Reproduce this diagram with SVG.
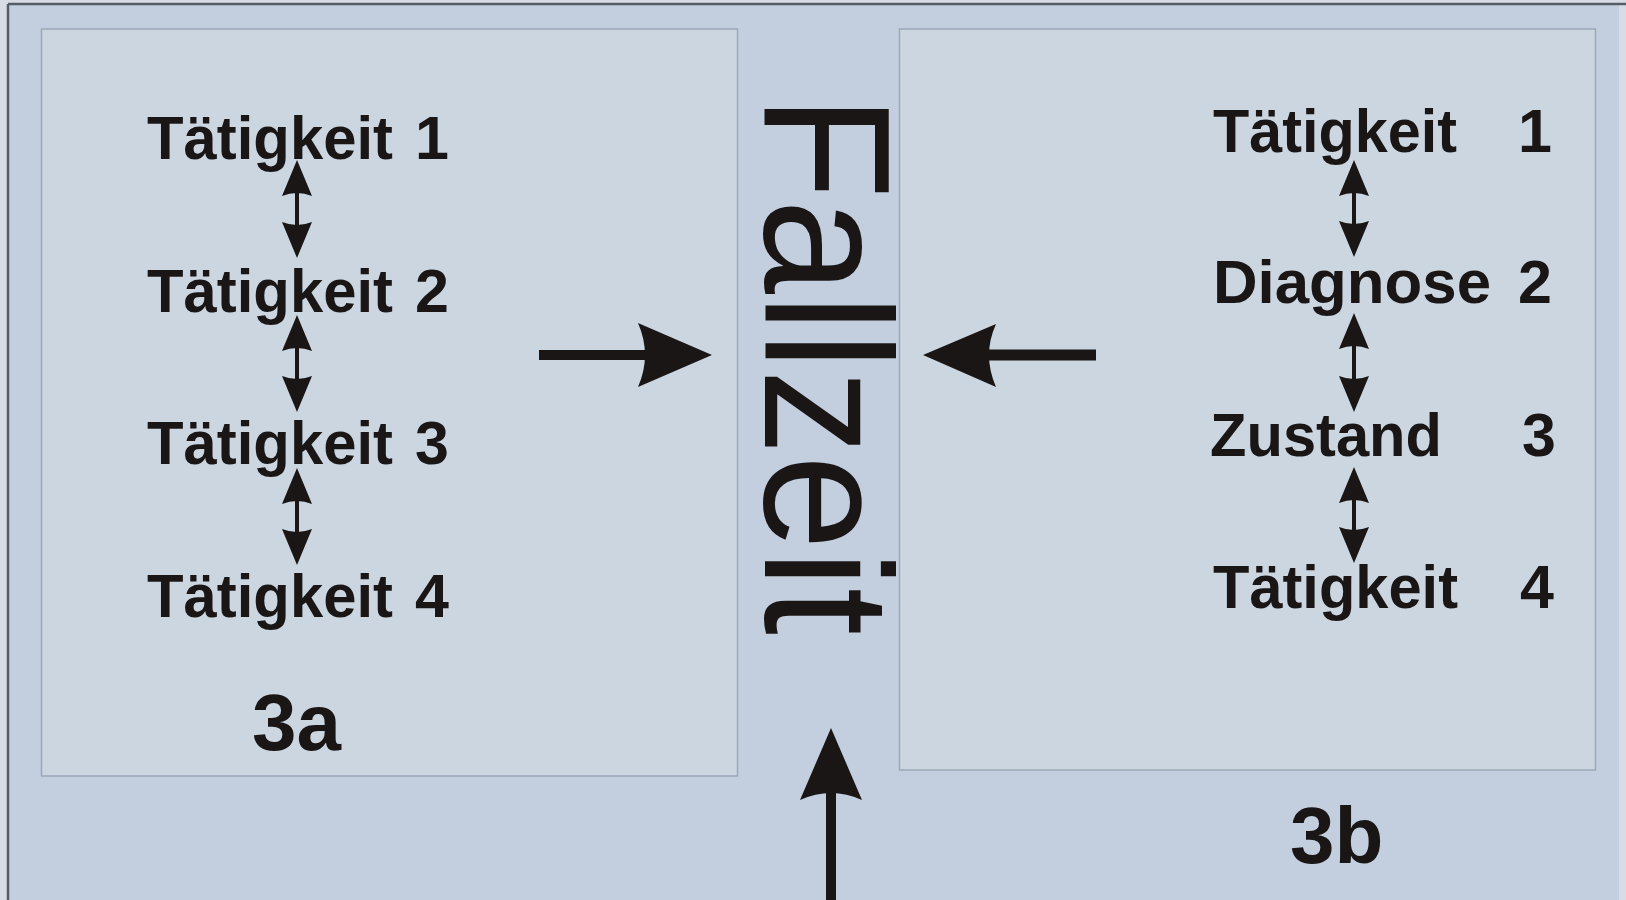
<svg xmlns="http://www.w3.org/2000/svg" width="1626" height="900" viewBox="0 0 1626 900">
  <style>
    .lbl { font-family: "Liberation Sans", Arial, sans-serif; font-weight: bold; font-size: 61px; fill: #1a1616; }
    .num { font-family: "Liberation Sans", Arial, sans-serif; font-weight: bold; font-size: 61px; fill: #1a1616; text-anchor: end; }
    .cap { font-family: "Liberation Sans", Arial, sans-serif; font-weight: bold; font-size: 80px; fill: #1a1616; }
    .big { font-family: "Liberation Sans", Arial, sans-serif; font-weight: normal; font-size: 180px; fill: #1a1616; }
    .panel { fill: #cbd6e1; stroke: #9ca8b8; stroke-width: 1.5; }
    .dbl { stroke: #1a1616; stroke-width: 4; fill: none; marker-start: url(#head); marker-end: url(#head); }
    .bigarrow { fill: #1a1616; }
    .frame { stroke: #565d67; stroke-width: 2.5; }
  </style>
  <defs>
    <marker id="head" viewBox="0 -15 36 30" refX="4" refY="0" markerWidth="36" markerHeight="30" markerUnits="userSpaceOnUse" orient="auto-start-reverse">
      <path d="M36,0 L0,-15 Q6,0 0,15 Z" fill="#1a1616"/>
    </marker>
  </defs>

  <!-- background and frame -->
  <rect x="0" y="0" width="1626" height="900" fill="#d8dde5"/>
  <rect x="8" y="4" width="1611" height="896" fill="#c3cfdf"/>
  <line class="frame" x1="8" y1="4" x2="1626" y2="4"/>
  <line class="frame" x1="8" y1="4" x2="8" y2="900"/>

  <g id="panel-3a">
    <rect class="panel" x="41.5" y="29" width="696" height="747"/>
    <text class="cap" x="252" y="750">3a</text>
  </g>

  <g id="panel-3b">
    <rect class="panel" x="899.5" y="29" width="696" height="741"/>
    <text class="cap" x="1290" y="863">3b</text>
  </g>

  <g id="fallzeit">
    <text class="big" transform="translate(765,95) rotate(90)" x="0" y="0" textLength="540" lengthAdjust="spacingAndGlyphs">Fallzeit</text>
  </g>

  <g id="node-a1"><text class="lbl" x="147" y="159" textLength="246" lengthAdjust="spacingAndGlyphs">Tätigkeit</text><text class="num" x="449" y="159">1</text></g>
  <g id="node-a2"><text class="lbl" x="147" y="312" textLength="246" lengthAdjust="spacingAndGlyphs">Tätigkeit</text><text class="num" x="449" y="312">2</text></g>
  <g id="node-a3"><text class="lbl" x="147" y="464" textLength="246" lengthAdjust="spacingAndGlyphs">Tätigkeit</text><text class="num" x="449" y="464">3</text></g>
  <g id="node-a4"><text class="lbl" x="147" y="617" textLength="246" lengthAdjust="spacingAndGlyphs">Tätigkeit</text><text class="num" x="449" y="617">4</text></g>

  <g id="node-b1"><text class="lbl" x="1213" y="152" textLength="244" lengthAdjust="spacingAndGlyphs">Tätigkeit</text><text class="num" x="1552" y="152">1</text></g>
  <g id="node-b2"><text class="lbl" x="1213" y="303" textLength="278" lengthAdjust="spacingAndGlyphs">Diagnose</text><text class="num" x="1552" y="303">2</text></g>
  <g id="node-b3"><text class="lbl" x="1210" y="456" textLength="232" lengthAdjust="spacingAndGlyphs">Zustand</text><text class="num" x="1556" y="456">3</text></g>
  <g id="node-b4"><text class="lbl" x="1213" y="608" textLength="245" lengthAdjust="spacingAndGlyphs">Tätigkeit</text><text class="num" x="1554" y="608">4</text></g>

  <g id="connectors">
    <line class="dbl" x1="297" y1="192" x2="297" y2="226"/>
    <line class="dbl" x1="297" y1="347" x2="297" y2="380"/>
    <line class="dbl" x1="297" y1="500" x2="297" y2="533"/>

    <line class="dbl" x1="1354" y1="192" x2="1354" y2="225"/>
    <line class="dbl" x1="1354" y1="345" x2="1354" y2="380"/>
    <line class="dbl" x1="1354" y1="499" x2="1354" y2="531"/>

    <!-- right-pointing arrow -->
    <path class="bigarrow" d="M539,350 L646,350 L646,360 L539,360 Z"/>
    <path class="bigarrow" d="M712,355 L638,323 Q652,355 638,387 Z"/>
    <!-- left-pointing arrow -->
    <path class="bigarrow" d="M988,349.5 L1096,349.5 L1096,360.5 L988,360.5 Z"/>
    <path class="bigarrow" d="M923,355 L996,324 Q982,355 996,387 Z"/>
    <!-- up arrow -->
    <path class="bigarrow" d="M826,790 L836,790 L836,900 L826,900 Z"/>
    <path class="bigarrow" d="M831,728 L862,800 Q831,786 800,800 Z"/>
  </g>
</svg>
